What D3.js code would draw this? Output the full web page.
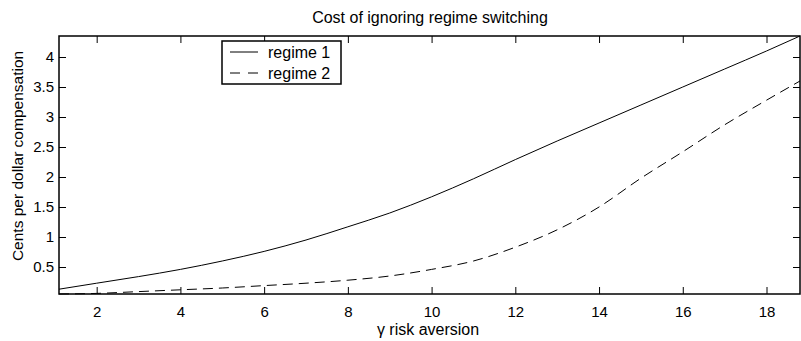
<!DOCTYPE html>
<html>
<head>
<meta charset="utf-8">
<script src="https://cdn.jsdelivr.net/npm/d3@7"></script>
<style>
  body { margin: 0; background: #fff; }
  text { font-family: "Liberation Sans", Arial, sans-serif; fill: #000; }
</style>
</head>
<body>
<div id="chart"></div>
<script>
// gamma (risk aversion) grid and cost in cents per dollar
const gamma   = [1.1, 2, 3, 4, 5, 6, 7, 8, 9, 10, 11, 12, 13, 14, 15, 16, 17, 18, 18.8];
const regime1 = [0.13, 0.23, 0.34, 0.46, 0.6, 0.76, 0.95, 1.17, 1.4, 1.67, 1.97, 2.29, 2.6, 2.9, 3.2, 3.5, 3.8, 4.1, 4.35];
const regime2 = [0.05, 0.06, 0.09, 0.12, 0.15, 0.19, 0.23, 0.28, 0.35, 0.46, 0.6, 0.83, 1.12, 1.5, 1.98, 2.42, 2.87, 3.28, 3.6];
const xTicks = [2, 4, 6, 8, 10, 12, 14, 16, 18];
const yTicks = [0.5, 1, 1.5, 2, 2.5, 3, 3.5, 4];
const seriesNames = ['regime 1', 'regime 2'];

const width = 801, height = 341;
const margin = {top: 36, right: 1, bottom: 47, left: 59};
const w = width - margin.left - margin.right;
const h = height - margin.top - margin.bottom;

const svg = d3.select('#chart').append('svg')
  .attr('width', width)
  .attr('height', height);

const g = svg.append('g')
  .attr('transform', 'translate(' + margin.left + ',' + margin.top + ')');

const x = d3.scaleLinear().domain([1.1, 18.8]).range([0, w]);
const y = d3.scaleLinear().domain([0.05, 4.35]).range([h, 0]);

const fmt = d => String(d);

// ticks point inwards, matlab style
g.append('g')
  .attr('class', 'x axis')
  .attr('transform', 'translate(0,' + h + ')')
  .call(d3.axisBottom(x).tickValues(xTicks).tickFormat(fmt).tickSizeInner(-7).tickSizeOuter(0).tickPadding(12));
g.append('g')
  .call(d3.axisTop(x).tickValues(xTicks).tickFormat('').tickSizeInner(-7).tickSizeOuter(0));
g.append('g')
  .attr('class', 'y axis')
  .call(d3.axisLeft(y).tickValues(yTicks).tickFormat(fmt).tickSizeInner(-7).tickSizeOuter(0).tickPadding(5));
g.append('g')
  .attr('transform', 'translate(' + w + ',0)')
  .call(d3.axisRight(y).tickValues(yTicks).tickFormat('').tickSizeInner(-7).tickSizeOuter(0));

g.selectAll('.domain').remove();
g.selectAll('.tick line').attr('stroke', '#000').attr('stroke-width', 1);
g.selectAll('.tick text')
  .style('font-family', '"Liberation Sans", Arial, sans-serif')
  .style('font-size', '15px')
  .attr('fill', '#000');

const line = (vals) => d3.line()
  .x((d, i) => x(gamma[i]))
  .y(d => y(d))
  .curve(d3.curveMonotoneX)(vals);

g.append('path')
  .attr('d', line(regime1))
  .attr('fill', 'none')
  .attr('stroke', '#000')
  .attr('stroke-width', 1);

g.append('path')
  .attr('d', line(regime2))
  .attr('fill', 'none')
  .attr('stroke', '#000')
  .attr('stroke-width', 1)
  .attr('stroke-dasharray', '10,6');

g.append('rect')
  .attr('x', 0).attr('y', 0)
  .attr('width', w).attr('height', h)
  .attr('fill', 'none')
  .attr('stroke', '#000')
  .attr('stroke-width', 1.5);

// legend
const legend = svg.append('g').attr('transform', 'translate(222,41)');
legend.append('rect')
  .attr('width', 119).attr('height', 43)
  .attr('fill', '#fff')
  .attr('stroke', '#000')
  .attr('stroke-width', 1.5);
seriesNames.forEach((name, i) => {
  const ly = 11 + i * 21;
  legend.append('line')
    .attr('x1', 8).attr('x2', 36)
    .attr('y1', ly).attr('y2', ly)
    .attr('stroke', '#000')
    .attr('stroke-dasharray', i === 1 ? '10,8' : null);
  legend.append('text')
    .attr('x', 46).attr('y', ly + 6)
    .style('font-size', '16px')
    .text(name);
});

svg.append('text')
  .attr('x', 430).attr('y', 23)
  .attr('text-anchor', 'middle')
  .style('font-size', '16px')
  .text('Cost of ignoring regime switching');

svg.append('text')
  .attr('x', 428).attr('y', 335)
  .attr('text-anchor', 'middle')
  .style('font-size', '16px')
  .text('γ risk aversion');

svg.append('text')
  .attr('transform', 'translate(23,156) rotate(-90)')
  .attr('text-anchor', 'middle')
  .style('font-size', '15.5px')
  .text('Cents per dollar compensation');
</script>
</body>
</html>
